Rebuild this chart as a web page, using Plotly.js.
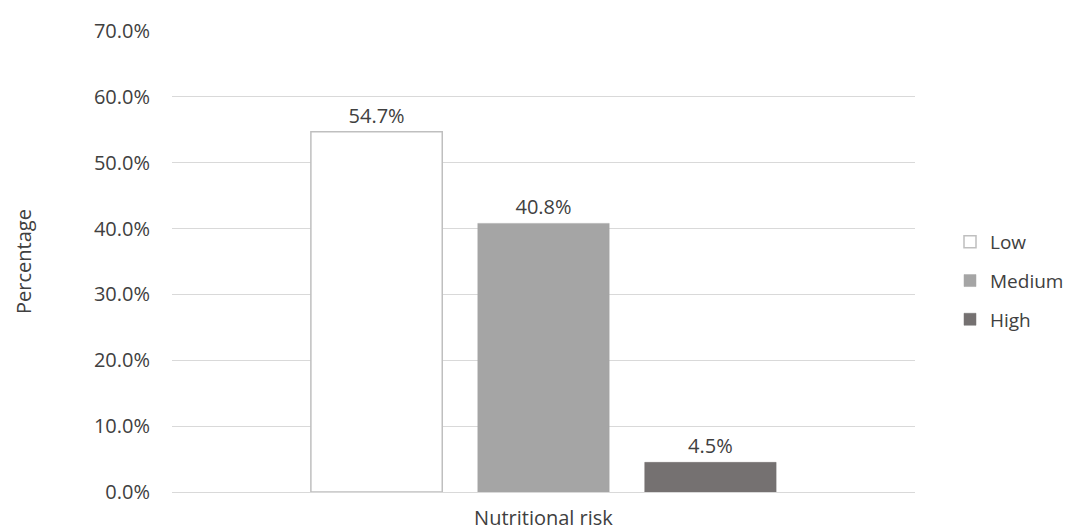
<!DOCTYPE html>
<html>
<head>
<meta charset="utf-8">
<script src="https://cdn.plot.ly/plotly-3.0.1.min.js"></script>
<style>html,body{margin:0;padding:0;background:#fff;}#chart{width:1084px;height:531px;}</style>
</head>
<body>
<div id="chart"></div>
<script>
const category = ["Nutritional risk"];
const seriesNames = ["Low", "Medium", "High"];
const lowValues = [54.7];
const mediumValues = [40.8];
const highValues = [4.5];
const yTickValues = [0, 10, 20, 30, 40, 50, 60, 70];
const yTickLabels = ["0.0%", "10.0%", "20.0%", "30.0%", "40.0%", "50.0%", "60.0%", "70.0%"];

const fills = ["#ffffff", "#a5a5a5", "#757171"];
const lines = ["#bfbfbf", "#a5a5a5", "#757171"];
const seriesValues = [lowValues, mediumValues, highValues];
const font = "'Open Sans', Lato, sans-serif";
const textColor = "#404040";

const traces = seriesNames.map((name, i) => ({
  type: "bar",
  name: name,
  x: category,
  y: seriesValues[i],
  legendgroup: name,
  marker: {color: fills[i], line: {color: lines[i], width: i === 0 ? 1.5 : 0.5}},
  texttemplate: "%{y:.1f}%",
  textposition: "outside",
  textfont: {family: font, size: 20, color: textColor},
  cliponaxis: false,
  hoverinfo: "skip"
}));

const layout = {
  width: 1084, height: 531,
  margin: {l: 172, r: 169, t: 31, b: 39},
  paper_bgcolor: "#ffffff",
  plot_bgcolor: "#ffffff",
  font: {family: font, size: 20, color: textColor},
  barmode: "group",
  bargap: 0.326,
  bargroupgap: 0.213,
  showlegend: true,
  legend: {
    xref: "container", x: 950 / 1084, xanchor: "left",
    yref: "container", y: 1 - 281 / 531, yanchor: "middle",
    font: {family: font, size: 19, color: textColor},
    tracegroupgap: 11,
    bgcolor: "rgba(0,0,0,0)"
  },
  xaxis: {
    showticklabels: false,
    ticks: "",
    showgrid: false,
    showline: false,
    zeroline: false,
    title: {text: "Nutritional risk", font: {family: font, size: 20, color: textColor}, standoff: 22},
    automargin: false
  },
  yaxis: {
    range: [0, 70.02],
    tickmode: "array",
    tickvals: yTickValues,
    ticktext: yTickLabels,
    ticks: "outside",
    ticklen: 17,
    tickcolor: "rgba(0,0,0,0)",
    showgrid: true,
    gridcolor: "#d9d9d9",
    gridwidth: 1,
    zeroline: true,
    zerolinecolor: "#d9d9d9",
    zerolinewidth: 1,
    showline: false,
    tickfont: {family: font, size: 20, color: textColor},
    title: {text: "Percentage", font: {family: font, size: 20, color: textColor}, standoff: 56},
    automargin: false
  }
};

Plotly.newPlot("chart", traces, layout, {displayModeBar: false, staticPlot: true});
</script>
</body>
</html>
